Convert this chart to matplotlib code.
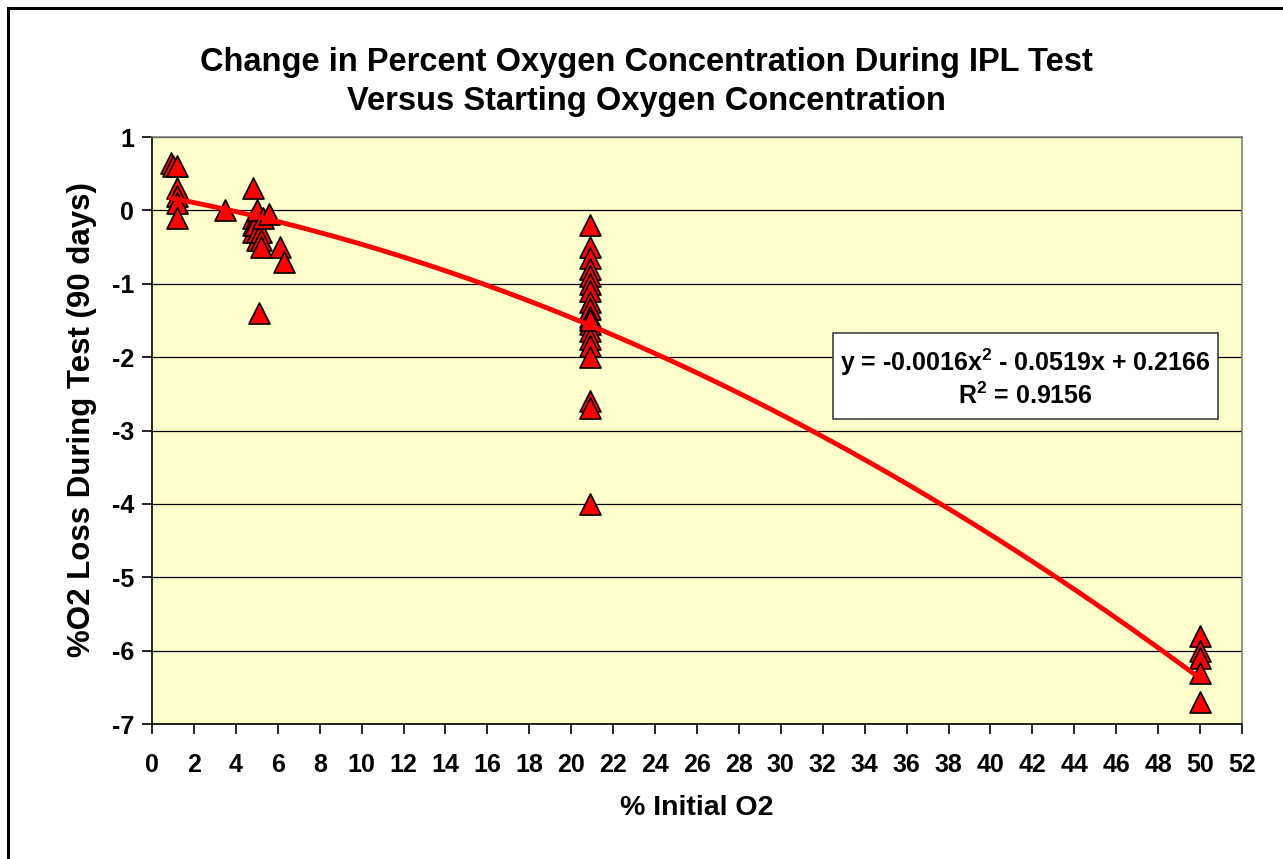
import numpy as np
import matplotlib
matplotlib.use("Agg")
import matplotlib.pyplot as plt
from matplotlib.patches import Rectangle

plt.rcParams['font.family'] = ['Liberation Sans', 'DejaVu Sans']
plt.rcParams['mathtext.fontset'] = 'custom'
plt.rcParams['mathtext.bf'] = 'Liberation Sans:bold'
plt.rcParams['mathtext.rm'] = 'Liberation Sans:bold'

# Data
x_vals = [0.9, 1.0, 1.2, 1.2, 1.2, 1.2, 1.2,
          3.5,
          4.8, 4.8, 4.8, 4.8, 4.9, 5.0, 5.0, 5.0, 5.1, 5.2, 5.2, 5.2, 5.3, 5.6, 6.1, 6.3,
          20.9, 20.9, 20.9, 20.9, 20.9, 20.9, 20.9, 20.9, 20.9, 20.9,
          20.9, 20.9, 20.9, 20.9, 20.9, 20.9, 20.9, 20.9, 20.9,
          50.0, 50.0, 50.0, 50.0, 50.0]
y_vals = [0.65, 0.6, 0.6, 0.3, 0.2, 0.1, -0.1,
          0.0,
          0.3, -0.1, -0.2, -0.3, -0.2, 0.0, -0.3, -0.4, -1.4, -0.3, -0.4, -0.5, -0.1, -0.05, -0.5, -0.7,
          -0.2, -0.5, -0.65, -0.8, -0.9, -1.0, -1.1, -1.25, -1.35, -1.45,
          -1.55, -1.65, -1.75, -1.85, -2.0, -2.6, -2.7, -4.0, -1.5,
          -5.8, -6.0, -6.1, -6.3, -6.7]

trend_coeffs = [-0.0016, -0.0519, 0.2166]
r_squared = 0.9156

title = "Change in Percent Oxygen Concentration During IPL Test\nVersus Starting Oxygen Concentration"
x_label = "% Initial O2"
y_label = "%O2 Loss During Test (90 days)"
x_ticks = list(range(0, 53, 2))
y_ticks = list(range(-7, 2))

W, H = 1283, 859
fig = plt.figure(figsize=(W / 100, H / 100), dpi=100)
fig.patch.set_facecolor('white')

# outer chart border (only top/left visible in the reference)
fig.patches.append(Rectangle((8 / W, -0.05), 1.2, 1 - 8 / H + 0.05, transform=fig.transFigure,
                             fill=False, edgecolor='black', linewidth=2.2, zorder=0))

left, right, top, bottom = 152, 1242, 137, 724
ax = fig.add_axes([left / W, 1 - bottom / H, (right - left) / W, (bottom - top) / H])
ax.set_facecolor('#FFFFCC')
ax.set_xlim(0, 52)
ax.set_ylim(-7, 1)

for yt in y_ticks:
    ax.axhline(yt, color='black', linewidth=0.9, zorder=1)

ax.scatter(x_vals, y_vals, marker='^', s=230, facecolor='#FF0000', edgecolor='black',
           linewidths=1.2, zorder=3)

xs = np.linspace(min(x_vals), max(x_vals), 300)
ax.plot(xs, np.polyval(trend_coeffs, xs), color='#FF0000', linewidth=3.5, zorder=4)

ax.set_xticks(x_ticks)
ax.set_yticks(y_ticks)
ax.set_yticklabels([str(v) for v in y_ticks])
ax.tick_params(direction='out', length=7, width=1.2, labelsize=18)
ax.tick_params(axis='x', pad=14)
ax.tick_params(axis='y', pad=6)
for lbl in ax.get_xticklabels() + ax.get_yticklabels():
    lbl.set_fontweight('bold')

for side in ['left', 'bottom']:
    ax.spines[side].set_color('black')
    ax.spines[side].set_linewidth(1.2)
for side in ['top', 'right']:
    ax.spines[side].set_color('#808080')
    ax.spines[side].set_linewidth(1.2)

fig.text(697 / W, 1 - 808 / H, x_label, ha='center', va='center', fontsize=20.5, fontweight='bold')
fig.text(82 / W, 1 - 420 / H, y_label, ha='center', va='center', fontsize=22.5,
         fontweight='bold', rotation=90)

fig.text(646 / W, 1 - 82 / H, title, ha='center', va='center', fontsize=23.5,
         fontweight='bold', linespacing=1.32)

# equation box
bx0, by0, bx1, by1 = 833, 333, 1218, 419
fig.patches.append(Rectangle((bx0 / W, 1 - by1 / H), (bx1 - bx0) / W, (by1 - by0) / H,
                             transform=fig.transFigure, facecolor='white',
                             edgecolor='#404040', linewidth=1.2, zorder=5))
a, b, c = trend_coeffs
fig.text((bx0 + bx1) / 2 / W, 1 - 362 / H,
         "y = %.4fx$^{\\mathbf{2}}$ - %.4fx + %.4f" % (a, abs(b), c),
         ha='center', va='center', fontsize=18, fontweight='bold', zorder=6)
fig.text((bx0 + bx1) / 2 / W, 1 - 396 / H,
         "R$^{\\mathbf{2}}$ = %.4f" % r_squared,
         ha='center', va='center', fontsize=18, fontweight='bold', zorder=6)

fig.savefig("out.png", dpi=100)
